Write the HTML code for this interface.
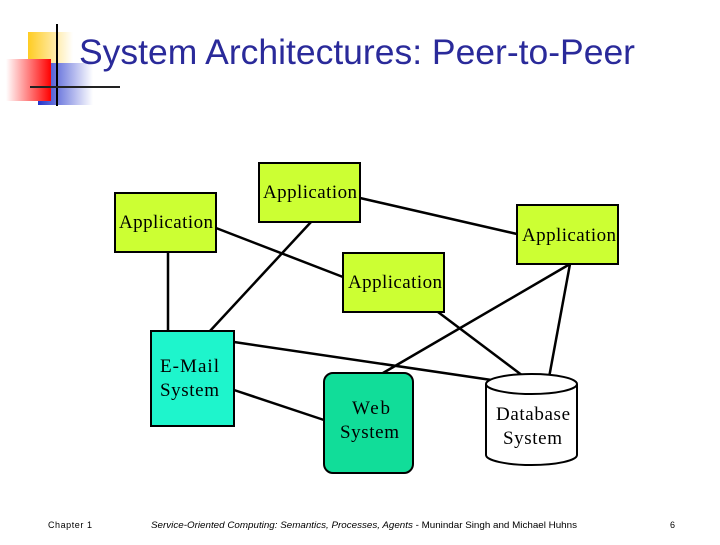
<!DOCTYPE html>
<html><head><meta charset="utf-8"><style>
body{margin:0;width:720px;height:540px;background:#fff;overflow:hidden;font-family:"Liberation Sans",sans-serif}
</style></head><body>
<svg width="720" height="540" xmlns="http://www.w3.org/2000/svg">
<defs>
<linearGradient id="r" x1="1" y1="0" x2="0" y2="0"><stop offset="0" stop-color="#f00"/><stop offset="1" stop-color="#fff"/></linearGradient>
<linearGradient id="b" x1="0" y1="0" x2="1" y2="0"><stop offset="0" stop-color="#2233cc"/><stop offset="1" stop-color="#fff"/></linearGradient>
<linearGradient id="y" x1="0" y1="0" x2="1" y2="0"><stop offset="0" stop-color="#ffcc22"/><stop offset="1" stop-color="#fff"/></linearGradient>
</defs>
<rect x="28" y="32" width="45" height="38" fill="url(#y)"/>
<rect x="38" y="63" width="55" height="42" fill="url(#b)"/>
<rect x="6" y="59" width="45" height="42" fill="url(#r)"/>
<line x1="57" y1="24" x2="57" y2="106" stroke="#000" stroke-width="2"/>
<line x1="30" y1="87" x2="120" y2="87" stroke="#222" stroke-width="2"/>
<text x="79" y="64" font-size="35" fill="#2a2a9a" textLength="556" lengthAdjust="spacingAndGlyphs" font-family="Liberation Sans,sans-serif">System Architectures: Peer-to-Peer</text>
<g stroke="#000" stroke-width="2.5" fill="none">
<line x1="216" y1="228" x2="343" y2="277"/>
<line x1="360" y1="198" x2="517" y2="234"/>
<line x1="311" y1="222" x2="210" y2="331"/>
<line x1="168" y1="252" x2="168" y2="331"/>
<line x1="234" y1="342" x2="505" y2="382"/>
<line x1="438" y1="312" x2="535" y2="385"/>
<line x1="570" y1="264" x2="383" y2="373"/>
<line x1="570" y1="264" x2="548" y2="383"/>
<line x1="234" y1="390" x2="324" y2="420"/>
</g>
<g stroke="#000" stroke-width="2" fill="#ccff33">
<rect x="259" y="163" width="101" height="59"/>
<rect x="115" y="193" width="101" height="59"/>
<rect x="517" y="205" width="101" height="59"/>
<rect x="343" y="253" width="101" height="59"/>
</g>
<rect x="151" y="331" width="83" height="95" fill="#1ef5cc" stroke="#000" stroke-width="2"/>
<rect x="324" y="373" width="89" height="100" rx="9" fill="#11dd99" stroke="#000" stroke-width="2"/>
<path d="M486 384 V455 A45.5 10 0 0 0 577 455 V384" fill="#fff" stroke="#000" stroke-width="2"/>
<ellipse cx="531.5" cy="384" rx="45.5" ry="10" fill="#fff" stroke="#000" stroke-width="2"/>
<g font-family="Liberation Serif,serif" font-size="19" fill="#000" lengthAdjust="spacingAndGlyphs">
<text x="263" y="198" textLength="94">Application</text>
<text x="119" y="228" textLength="94">Application</text>
<text x="522" y="241" textLength="94">Application</text>
<text x="348" y="288" textLength="94">Application</text>
<text x="160" y="372" textLength="59">E-Mail</text>
<text x="160" y="396" textLength="59">System</text>
<text x="352" y="414" textLength="38">Web</text>
<text x="340" y="438" textLength="59">System</text>
<text x="496" y="420" textLength="74">Database</text>
<text x="503" y="444" textLength="59">System</text>
</g>
<g font-size="9" fill="#000">
<text x="48" y="528" textLength="44">Chapter 1</text>
<text x="151" y="528" font-style="italic" textLength="426" lengthAdjust="spacingAndGlyphs">Service-Oriented Computing: Semantics, Processes, Agents <tspan font-style="normal">- Munindar Singh and Michael Huhns</tspan></text>
<text x="670" y="528">6</text>
</g>
</svg>
</body></html>
